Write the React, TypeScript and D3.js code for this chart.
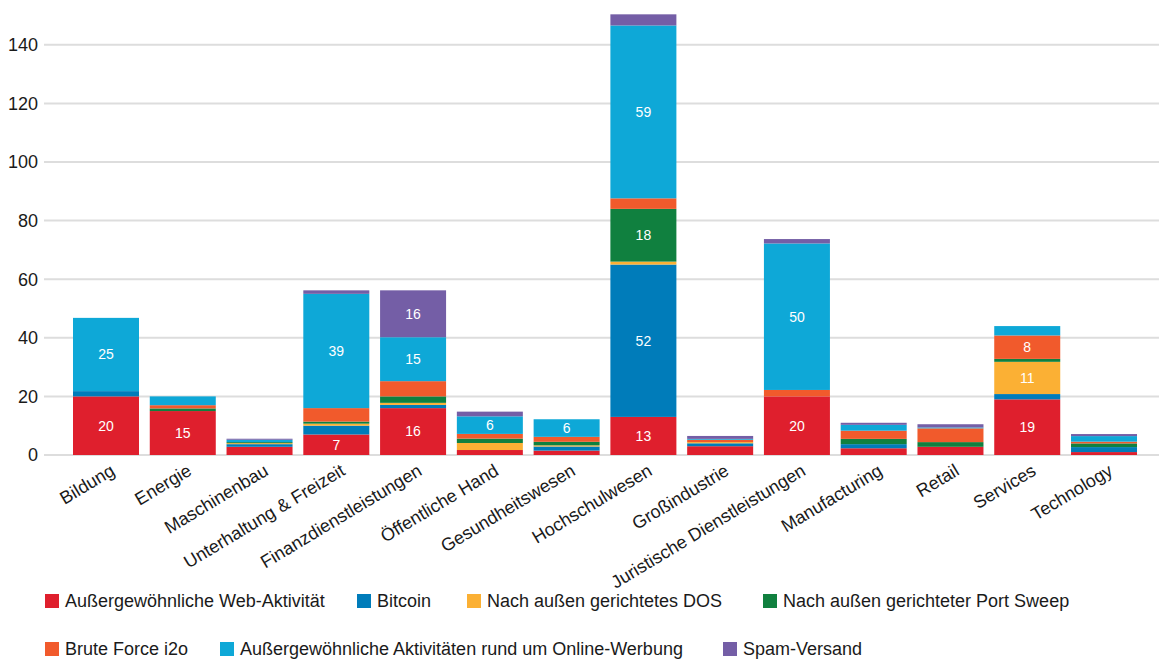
import React from "react";
import * as d3 from "d3";

// Branchen (x-Achse)
const categories = [
  "Bildung",
  "Energie",
  "Maschinenbau",
  "Unterhaltung & Freizeit",
  "Finanzdienstleistungen",
  "Öffentliche Hand",
  "Gesundheitswesen",
  "Hochschulwesen",
  "Großindustrie",
  "Juristische Dienstleistungen",
  "Manufacturing",
  "Retail",
  "Services",
  "Technology",
];

// Serienwerte je Branche, in Stapelreihenfolge (unten nach oben)
const webActivity = [20, 15, 2.8, 7, 16, 1.7, 1.5, 13, 3, 20, 2.3, 2.8, 19, 1];
const bitcoin = [1.8, 0, 0.9, 3, 1.1, 0, 1.4, 52, 1, 0, 1.4, 0, 1.8, 1.7];
const outboundDos = [0, 0, 0.35, 0.7, 0.7, 2.4, 0.4, 1, 0.4, 0, 0, 0, 11, 0];
const portSweep = [0, 0.9, 0.35, 0.7, 2.2, 1.5, 1.2, 18, 0, 0, 1.8, 1.6, 1, 1.25];
const bruteForce = [0, 1.1, 0, 4.6, 5.2, 1.6, 1.7, 3.6, 0.8, 2.2, 2.8, 4.7, 8, 0.6];
const onlineAds = [25, 3, 0.8, 39, 15, 6, 6, 59, 0.3, 50, 2, 0.3, 3.2, 1.9];
const spam = [0, 0, 0.35, 1.2, 16, 1.6, 0, 3.8, 1, 1.5, 0.7, 1.1, 0, 0.7];

const seriesNames = [
  "Außergewöhnliche Web-Aktivität",
  "Bitcoin",
  "Nach außen gerichtetes DOS",
  "Nach außen gerichteter Port Sweep",
  "Brute Force i2o",
  "Außergewöhnliche Aktivitäten rund um Online-Werbung",
  "Spam-Versand",
];
const seriesValues = [webActivity, bitcoin, outboundDos, portSweep, bruteForce, onlineAds, spam];
const seriesColors = ["#df1f2d", "#007cba", "#fbb034", "#10803f", "#f15a2c", "#0ea8d7", "#745ea6"];

const yTicks = [0, 20, 40, 60, 80, 100, 120, 140];

// Layout
const WIDTH = 1159;
const HEIGHT = 661;
const FONT = "'Liberation Sans', Arial, Helvetica, sans-serif";
const TEXT = "#1a1a1a";
const GRID_LEFT = 44;
const legendRows = [
  { y: 601, items: [0, 1, 2, 3], xs: [45, 357, 467, 763] },
  { y: 649, items: [4, 5, 6], xs: [45, 220, 723] },
];

export default function App() {
  const keys = seriesNames.map((_, i) => `s${i}`);
  const rows = categories.map((c, ci) => {
    const r: Record<string, any> = { category: c };
    keys.forEach((k, si) => (r[k] = seriesValues[si][ci]));
    return r;
  });
  const stacked = d3.stack<any>().keys(keys)(rows);

  const step = 76.77;
  const x = d3
    .scaleBand<string>()
    .domain(categories)
    .range([73 - (step - 66) / 2, 73 - (step - 66) / 2 + step * categories.length])
    .paddingInner((step - 66) / step)
    .paddingOuter((step - 66) / step / 2);

  const y = d3.scaleLinear().domain([0, 140]).range([455, 44.8]);

  return (
    <svg
      width={WIDTH}
      height={HEIGHT}
      style={{ position: "absolute", left: 0, top: 0, background: "#fff" }}
      fontFamily={FONT}
    >
      {/* grid + y axis */}
      {yTicks.map((t) => (
        <g key={t}>
          <line x1={GRID_LEFT} x2={WIDTH} y1={y(t)} y2={y(t)} stroke="#dddddd" strokeWidth={2} />
          <text x={38} y={y(t)} dy="0.35em" textAnchor="end" fontSize={18} fill={TEXT}>
            {t}
          </text>
        </g>
      ))}

      {/* stacked bars */}
      {stacked.map((layer, si) => (
        <g key={layer.key} fill={seriesColors[si]}>
          {layer.map((d, ci) => {
            const h = y(d[0]) - y(d[1]);
            if (h <= 0) return null;
            return (
              <rect
                key={ci}
                x={x(categories[ci])}
                y={y(d[1])}
                width={x.bandwidth()}
                height={h}
              />
            );
          })}
        </g>
      ))}

      {/* value labels */}
      {stacked.map((layer, si) =>
        layer.map((d, ci) => {
          const v = d[1] - d[0];
          if (v < 5.5) return null;
          return (
            <text
              key={`${si}-${ci}`}
              x={(x(categories[ci]) as number) + x.bandwidth() / 2}
              y={(y(d[0]) + y(d[1])) / 2}
              dy="0.35em"
              textAnchor="middle"
              fontSize={14}
              fill="#fff"
            >
              {Math.round(v)}
            </text>
          );
        })
      )}

      {/* x axis labels */}
      {categories.map((c) => {
        const cx = (x(c) as number) + x.bandwidth() / 2 + 10;
        const cy = 474;
        return (
          <text
            key={c}
            transform={`translate(${cx},${cy}) rotate(-31)`}
            textAnchor="end"
            fontSize={18}
            fill={TEXT}
          >
            {c}
          </text>
        );
      })}

      {/* legend */}
      {legendRows.map((row, ri) =>
        row.items.map((si, k) => (
          <g key={`${ri}-${si}`} transform={`translate(${row.xs[k]},${row.y})`}>
            <rect x={0} y={-7} width={14} height={14} fill={seriesColors[si]} />
            <text x={20} y={0} dy="0.35em" fontSize={18} fill={TEXT}>
              {seriesNames[si]}
            </text>
          </g>
        ))
      )}
    </svg>
  );
}
